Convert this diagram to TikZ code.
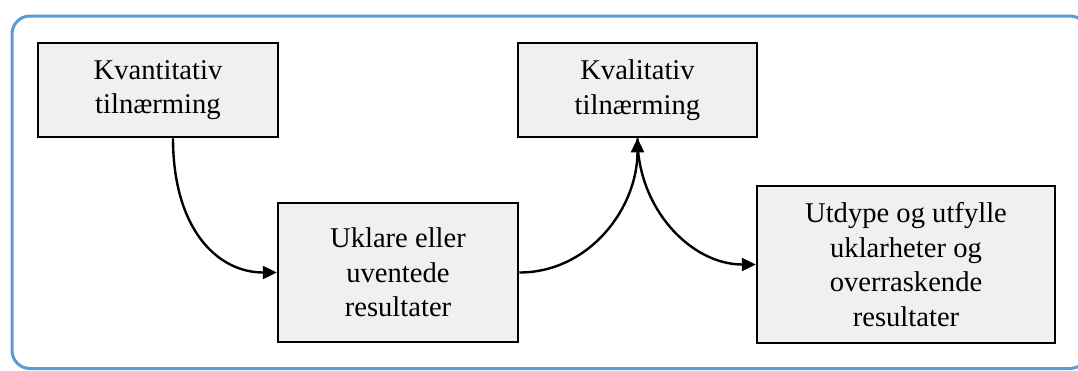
\documentclass[tikz,border=0pt]{standalone}
\usepackage{fontspec}
\setmainfont{Liberation Serif}
\usetikzlibrary{arrows.meta,calc}
\definecolor{frameblue}{HTML}{5B9BD5}
\definecolor{boxgray}{HTML}{F0F0F0}
\tikzset{
  stepbox/.style={draw=black, line width=2.5pt, fill=boxgray, align=center,
    inner sep=0pt, font=\fontsize{28.6}{34.5}\selectfont},
  flow/.style={line width=2.4pt, -{Triangle[length=14pt,width=13pt]}}
}
\begin{document}
\begin{tikzpicture}[x=1pt,y=-1pt]
  \useasboundingbox (0,0) rectangle (1078,370);
  \begin{scope}
    \clip (0,0) rectangle (1078,370);
    \draw[frameblue, line width=3pt, rounded corners=18pt] (12,16) rectangle (1088,368.5);
  \end{scope}

  \node[stepbox, minimum width=240pt, minimum height=94pt] (b1) at (158,90)
    {Kvantitativ\\tilnærming};
  \node[stepbox, minimum width=240pt, minimum height=139pt] (b2) at (398,272.5)
    {Uklare eller\\uventede\\resultater};
  \node[stepbox, minimum width=239pt, minimum height=94pt] (b3) at (637.5,90)
    {Kvalitativ\\tilnærming};
  \node[stepbox, minimum width=298pt, minimum height=157pt] (b4) at (906,264.5)
    {Utdype og utfylle\\uklarheter og\\overraskende\\resultater};

  \draw[flow] ($(b1.south)+(15,0)$) .. controls ($(b1.south)+(15,90)$) and ($(b2.west)+(-60,0)$) .. (b2.west);
  \draw[flow] (b2.east) .. controls ($(b2.east)+(70,0)$) and ($(b3.south)+(0,70)$) .. (b3.south);
  \draw[flow] (b3.south) .. controls ($(b3.south)+(0,70)$) and ($(b4.west)+(-65,0)$) .. (b4.west);
\end{tikzpicture}
\end{document}
